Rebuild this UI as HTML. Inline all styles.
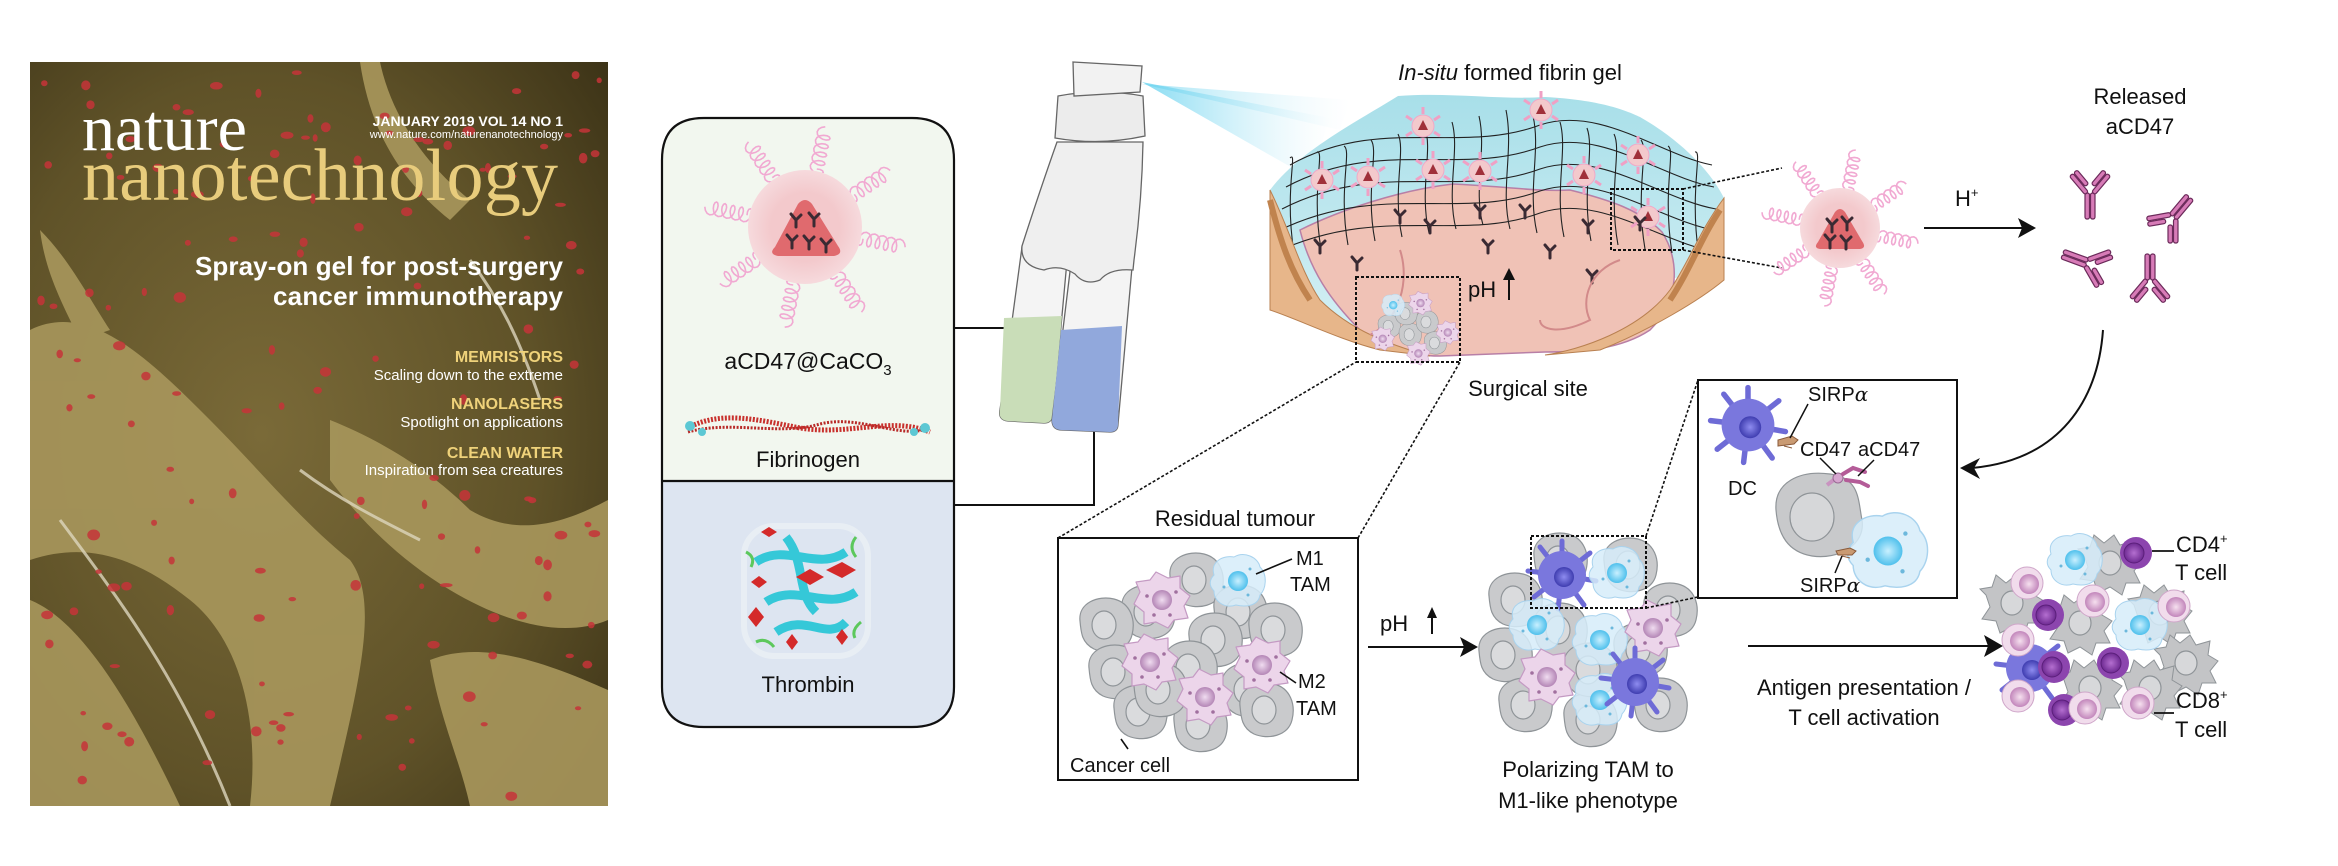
<!DOCTYPE html>
<html><head><meta charset="utf-8"><style>
html,body{margin:0;padding:0;background:#fff;overflow:hidden;}
svg{display:block;}
text{font-family:"Liberation Sans",Arial,sans-serif;fill:#111;}
</style></head><body>
<svg id="s" width="2338" height="866" viewBox="0 0 2338 866" xmlns="http://www.w3.org/2000/svg">
<defs>
 <radialGradient id="cov" cx="0.4" cy="0.5" r="0.8"><stop offset="0" stop-color="#7a6a38"/><stop offset="0.6" stop-color="#5f5228"/><stop offset="1" stop-color="#3a3116"/></radialGradient>
 <radialGradient id="pp" cx="0.5" cy="0.5" r="0.5"><stop offset="0.6" stop-color="#f3c9cc"/><stop offset="1" stop-color="#f6dadd"/></radialGradient>
 <linearGradient id="spray" x1="0" y1="0" x2="1" y2="0"><stop offset="0" stop-color="#5fd0ee" stop-opacity="0.95"/><stop offset="1" stop-color="#bfeaf7" stop-opacity="0"/></linearGradient>
 <linearGradient id="gel" x1="0" y1="0" x2="0" y2="1"><stop offset="0" stop-color="#a8dfe9"/><stop offset="1" stop-color="#d8f1f5"/></linearGradient>
 <radialGradient id="m1n"><stop offset="0" stop-color="#c9f0ff"/><stop offset="1" stop-color="#4fc0ec"/></radialGradient>
 <radialGradient id="m2n"><stop offset="0" stop-color="#f0dcf0"/><stop offset="1" stop-color="#b486b6"/></radialGradient>
 <radialGradient id="dcn"><stop offset="0" stop-color="#8e8cf0"/><stop offset="1" stop-color="#3f3db0"/></radialGradient>
 <radialGradient id="cd4"><stop offset="0" stop-color="#b46fd0"/><stop offset="1" stop-color="#6e2a92"/></radialGradient>
 <radialGradient id="cd8"><stop offset="0" stop-color="#f6e0ef"/><stop offset="1" stop-color="#c286bb"/></radialGradient>
 <g id="ab"><path d="M0,1 L0,8 M0,1 L-5,-5 M0,1 L5,-4" stroke="#3a2a33" stroke-width="3" fill="none" stroke-linecap="round"/></g>
 <g id="bigab">
  <g stroke="#6b2a5a" stroke-width="1.2" fill="#d77bb7">
  <rect x="-5" y="0" width="4.5" height="26" rx="2"/><rect x="0.5" y="0" width="4.5" height="26" rx="2"/>
  <g transform="rotate(-40)"><rect x="-5" y="-26" width="4.5" height="24" rx="2"/><rect x="0.5" y="-26" width="4.5" height="18" rx="2"/></g>
  <g transform="rotate(40)"><rect x="-5" y="-26" width="4.5" height="18" rx="2"/><rect x="0.5" y="-26" width="4.5" height="24" rx="2"/></g>
  </g></g>
 <g id="gc"><path d="M-26,-4 C-28,-22 -8,-30 8,-26 C24,-22 30,-6 26,10 C22,26 2,30 -12,24 C-24,18 -25,8 -26,-4Z" fill="#c9cacc" stroke="#8f9498" stroke-width="1.2"/><ellipse cx="-2" cy="0" rx="12" ry="14" fill="#dadbdd" stroke="#8f9498" stroke-width="1.2"/></g>
 <g id="gs"><path d="M-26,-10 L-32,-16 L-20,-18 L-16,-30 L-6,-22 L4,-30 L10,-20 L24,-24 L22,-10 L32,-4 L24,6 L30,18 L16,18 L12,30 L0,22 L-12,28 L-16,16 L-30,14 L-22,2Z" fill="#c3c4c6" stroke="#8f9498" stroke-width="1"/><ellipse cx="0" cy="-2" rx="11" ry="12" fill="#d7d8da" stroke="#8f9498" stroke-width="1.2"/></g>
 <g id="m1"><path d="M-24,-6 C-28,-20 -14,-26 -4,-24 C6,-30 20,-24 22,-14 C30,-6 28,8 22,14 C20,26 6,26 -2,24 C-14,28 -24,20 -24,10 C-30,4 -28,-2 -24,-6Z" fill="#d6ecf9" fill-opacity="0.85" stroke="#a9d3ee" stroke-width="1"/><circle r="10" fill="url(#m1n)"/><circle cx="-14" cy="6" r="1.5" fill="#6cb8dc"/><circle cx="12" cy="-12" r="1.5" fill="#6cb8dc"/><circle cx="10" cy="14" r="1.5" fill="#6cb8dc"/></g>
 <g id="m2"><path d="M-22,-8 L-26,-18 L-12,-20 L-6,-28 L6,-22 L18,-24 L18,-12 L28,-4 L22,6 L26,18 L12,20 L6,28 L-6,22 L-18,24 L-18,12 L-28,4Z" fill="#ecd5ea" stroke="#c49ac3" stroke-width="1.2" stroke-linejoin="round"/><circle r="10" fill="url(#m2n)"/><circle cx="-15" cy="-4" r="1.8" fill="#a1709f"/><circle cx="14" cy="-8" r="1.8" fill="#a1709f"/><circle cx="8" cy="15" r="1.8" fill="#a1709f"/><circle cx="-8" cy="15" r="1.8" fill="#a1709f"/></g>
 <g id="dc"><g stroke="#6e6bd6" stroke-width="5" stroke-linecap="round"><line x1="0" y1="0" x2="0" y2="-34"/><line x1="0" y1="0" x2="28" y2="-22"/><line x1="0" y1="0" x2="34" y2="6"/><line x1="0" y1="0" x2="22" y2="30"/><line x1="0" y1="0" x2="-4" y2="34"/><line x1="0" y1="0" x2="-28" y2="22"/><line x1="0" y1="0" x2="-34" y2="-4"/><line x1="0" y1="0" x2="-22" y2="-28"/></g><circle r="24" fill="#7a77dd"/><circle cx="2" cy="2" r="10" fill="url(#dcn)"/></g>
 <g id="t4"><circle r="16" fill="#8c45ae"/><circle cx="-2" cy="0" r="10" fill="url(#cd4)" stroke="#5b1f7a" stroke-width="1"/></g>
 <g id="t8"><circle r="16" fill="#f1dcec" stroke="#cfa6c9" stroke-width="1"/><circle cx="2" cy="1" r="10" fill="url(#cd8)"/></g>
 <g id="gp"><circle r="11" fill="#f3c9cc" stroke="#f0a9c8" stroke-width="1"/><path d="M-5,4 L0,-6 L5,4Z" fill="#a0303a"/><g stroke="#f0a0c4" stroke-width="3"><line x1="0" y1="-12" x2="0" y2="-19"/><line x1="11" y1="-6" x2="17" y2="-10"/><line x1="11" y1="6" x2="17" y2="10"/><line x1="0" y1="12" x2="0" y2="19"/><line x1="-11" y1="6" x2="-17" y2="10"/><line x1="-11" y1="-6" x2="-17" y2="-10"/></g></g>
</defs>

<!-- cover -->
<rect x="30" y="62" width="578" height="744" fill="url(#cov)"/>
<g fill="#a8975c" opacity="0.9">
 <path d="M30,330 C90,300 150,360 210,420 C260,470 300,520 350,560 C380,600 360,680 330,806 L250,806 C260,720 240,640 190,600 C140,560 90,540 30,560Z"/>
 <path d="M30,600 C80,620 130,700 180,806 L30,806Z"/>
 <path d="M330,420 C380,440 430,470 470,510 C520,540 570,520 608,500 L608,620 C560,640 500,620 450,590 C400,560 360,520 330,480Z"/>
 <path d="M430,660 C480,640 540,660 608,690 L608,806 L470,806 C460,760 440,720 430,660Z"/>
 <path d="M40,230 C70,260 90,300 110,330 L80,340 C60,300 45,270 40,230Z"/>
 <path d="M380,62 C390,110 420,160 470,200 L450,220 C400,180 370,130 360,62Z"/>
</g>
<g stroke="#ddd6bd" stroke-width="3" fill="none" opacity="0.8">
 <path d="M60,520 C120,600 180,680 230,806"/><path d="M300,470 C340,500 380,520 420,540"/><path d="M470,260 C500,300 520,340 540,400"/>
</g>
<g fill="#c63438" id="dots"></g>
<text x="82" y="150" font-size="66" style="fill:#fff;font-family:'Liberation Serif',serif">nature</text>
<text x="82" y="200" font-size="74" style="fill:#e8cc7c;font-family:'Liberation Serif',serif" textLength="476">nanotechnology</text>
<text x="563" y="126" font-size="14" font-weight="bold" text-anchor="end" style="fill:#fff">JANUARY 2019  VOL 14  NO 1</text>
<text x="563" y="138" font-size="11" text-anchor="end" style="fill:#fff">www.nature.com/naturenanotechnology</text>
<text x="563" y="275" font-size="26" font-weight="bold" text-anchor="end" style="fill:#fff" textLength="368">Spray-on gel for post-surgery</text>
<text x="563" y="305" font-size="26" font-weight="bold" text-anchor="end" style="fill:#fff" textLength="290">cancer immunotherapy</text>
<text x="563" y="362" font-size="16" font-weight="bold" text-anchor="end" style="fill:#efd27a">MEMRISTORS</text>
<text x="563" y="380" font-size="15" text-anchor="end" style="fill:#fff">Scaling down to the extreme</text>
<text x="563" y="409" font-size="16" font-weight="bold" text-anchor="end" style="fill:#efd27a">NANOLASERS</text>
<text x="563" y="427" font-size="15" text-anchor="end" style="fill:#fff">Spotlight on applications</text>
<text x="563" y="458" font-size="16" font-weight="bold" text-anchor="end" style="fill:#efd27a">CLEAN WATER</text>
<text x="563" y="475" font-size="15" text-anchor="end" style="fill:#fff">Inspiration from sea creatures</text>

<!-- left box -->
<path d="M662,481 L662,160 Q662,118 704,118 L912,118 Q954,118 954,160 L954,481Z" fill="#f2f7ef"/>
<path d="M662,481 L954,481 L954,687 Q954,727 912,727 L704,727 Q662,727 662,687Z" fill="#dde5f1"/>
<path d="M704,118 L912,118 Q954,118 954,160 L954,687 Q954,727 912,727 L704,727 Q662,727 662,687 L662,160 Q662,118 704,118Z" fill="none" stroke="#111" stroke-width="2.2"/>
<line x1="662" y1="481" x2="954" y2="481" stroke="#111" stroke-width="2.2"/>
<g id="spir1"></g>
<circle cx="805" cy="227" r="57" fill="url(#pp)"/>
<path d="M775,247 Q768,254 778,256 L834,256 Q844,254 838,246 L812,204 Q805,196 798,204Z" fill="#e06a6e"/>
<use href="#ab" x="796" y="219"/><use href="#ab" x="814" y="218"/><use href="#ab" x="792" y="240"/><use href="#ab" x="809" y="241"/><use href="#ab" x="826" y="244"/>
<text x="808" y="369" font-size="23" text-anchor="middle">aCD47@CaCO<tspan font-size="15" dy="6">3</tspan></text>
<path d="M688,428 C720,410 760,420 800,428 C850,436 890,416 930,432" stroke="#c8302c" stroke-width="5" fill="none" stroke-dasharray="2 1.5"/>
<path d="M688,432 C730,420 780,436 820,424 C860,414 900,440 930,428" stroke="#b82a28" stroke-width="3" fill="none" stroke-dasharray="2 1.5"/>
<g fill="#5cc8d4"><circle cx="690" cy="426" r="5"/><circle cx="702" cy="432" r="4"/><circle cx="925" cy="428" r="5"/><circle cx="914" cy="432" r="4"/></g>
<text x="808" y="467" font-size="22" text-anchor="middle">Fibrinogen</text>
<g transform="translate(806,592)">
 <rect x="-62" y="-66" width="124" height="130" rx="30" fill="none" stroke="#e8eef4" stroke-width="6"/>
 <path d="M-50,-30 C-20,-50 10,-20 40,-40 M-40,10 C-10,-10 20,20 50,0 M-30,40 C0,20 20,50 40,30 M-20,-55 C0,-30 -10,0 10,20" stroke="#35c8d8" stroke-width="9" fill="none"/>
 <path d="M-55,-10 l8,-6 8,6 -8,6z M-10,-15 l14,-8 14,8 -14,8z M20,-22 l16,-8 14,8 -14,8z M-58,25 l8,-10 8,10 -8,10z M30,45 l6,-8 6,8 -6,8z M-20,50 l6,-8 6,8 -6,8z M-45,-60 l8,-5 8,5 -8,5z" fill="#d42a2a"/>
 <path d="M-60,-40 q10,5 5,15 M50,-55 q-8,10 0,20 M-50,50 q10,-5 18,5 M55,30 q-10,8 -6,16" stroke="#5cc85c" stroke-width="3" fill="none"/>
</g>
<text x="808" y="692" font-size="22" text-anchor="middle">Thrombin</text>

<!-- connectors box to tubes -->
<path d="M954,328 L1028,328" stroke="#111" stroke-width="2" fill="none"/>
<path d="M954,505 L1094,505 L1094,413" stroke="#111" stroke-width="2" fill="none"/>

<!-- spray -->
<path d="M1142,82 L1330,118 L1310,178 Z" fill="url(#spray)" opacity="0.8"/>
<path d="M1142,84 L1350,100 L1340,130Z" fill="url(#spray)" opacity="0.6"/>
<!-- bottle -->
<g stroke="#666" stroke-width="1.3">
 <path d="M1022,247 L1000,410 Q998,420 1008,421 L1044,423 Q1052,423 1053,414 L1068,250Z" fill="#f4f4f4"/>
 <path d="M1004,318 L1000,410 Q998,420 1008,421 L1044,423 Q1052,423 1053,414 L1062,316Z" fill="#c9ddb8" stroke="none"/>
 <path d="M1072,255 L1052,420 Q1052,430 1062,430 L1110,432 Q1118,432 1118,424 L1133,256Z" fill="#f4f4f4"/>
 <path d="M1061,330 L1052,420 Q1052,430 1062,430 L1110,432 Q1118,432 1118,424 L1122,326Z" fill="#91a8dc" stroke="none"/>
 <path d="M1057,142 L1143,142 Q1142,200 1134,260 L1133,270 Q1110,268 1100,280 Q1085,286 1075,274 Q1060,264 1044,270 Q1020,266 1022,246 Q1040,190 1057,142Z" fill="#efefef"/>
 <path d="M1058,96 Q1100,88 1143,96 L1145,136 Q1100,146 1055,138Z" fill="#ececec"/>
 <path d="M1073,62 L1142,66 L1140,92 L1074,96Z" fill="#f2f2f2"/>
</g>

<!-- gel surgical site -->
<path d="M1270,190 C1300,150 1360,120 1398,96 C1450,92 1500,100 1545,97 C1600,100 1625,110 1640,117 C1680,140 1710,170 1724,198 L1724,280 C1690,270 1650,280 1620,300 C1590,330 1570,350 1545,352 L1440,356 C1400,355 1330,320 1270,300Z" fill="url(#gel)"/>
<path d="M1300,230 C1340,210 1400,190 1453,184 C1500,186 1540,192 1570,190 C1610,200 1640,210 1662,232 C1680,260 1680,300 1650,330 C1620,350 1580,352 1545,352 L1440,356 C1400,356 1380,345 1360,330 C1330,300 1310,270 1300,230Z" fill="#f0c2b6" stroke="#b87fa6" stroke-width="1.5"/>
<g id="grid" stroke="#222" stroke-width="1.1" fill="none"></g>
<path d="M1270,190 C1290,230 1300,270 1320,300 C1350,330 1390,345 1430,356 L1380,350 C1340,340 1300,320 1270,310Z" fill="#e7b68a" stroke="#b98050" stroke-width="1"/>
<path d="M1270,200 C1280,240 1290,270 1310,300" stroke="#c0834e" stroke-width="6" fill="none"/>
<path d="M1724,198 C1700,230 1690,260 1670,290 C1640,330 1580,350 1545,355 L1600,350 C1650,330 1700,300 1724,280Z" fill="#e7b68a" stroke="#b98050" stroke-width="1"/>
<path d="M1720,210 C1700,240 1690,270 1670,300" stroke="#c0834e" stroke-width="6" fill="none"/>
<g id="gelp"></g>
<g id="gelab"></g>
<path d="M1400,250 C1410,280 1400,320 1370,335 M1620,260 C1590,270 1580,300 1590,320 C1560,335 1540,330 1540,320" stroke="#d28a8a" stroke-width="2" fill="none"/>
<!-- small tumour in gel -->
<g transform="translate(1410,322) scale(0.42)">
 <use href="#gc" x="-50" y="10"/><use href="#gc" x="0" y="30"/><use href="#gc" x="40" y="0"/><use href="#gc" x="-10" y="-20"/><use href="#gc" x="60" y="50"/>
 <use href="#m1" x="-40" y="-40"/><use href="#m2" x="25" y="-45"/><use href="#m2" x="-65" y="40"/><use href="#m2" x="90" y="25"/><use href="#m2" x="20" y="75"/>
</g>
<text x="1468" y="297" font-size="22">pH</text>
<path d="M1509,300 L1509,275" stroke="#111" stroke-width="2"/><path d="M1503,280 L1509,268 L1515,280Z" fill="#111"/>
<rect x="1356" y="277" width="104" height="85" fill="none" stroke="#111" stroke-width="2" stroke-dasharray="3 2"/>
<rect x="1611" y="189" width="72" height="61" fill="none" stroke="#111" stroke-width="2" stroke-dasharray="3 2"/>
<line x1="1683" y1="189" x2="1782" y2="168" stroke="#111" stroke-width="1.6" stroke-dasharray="3 2"/>
<line x1="1683" y1="250" x2="1782" y2="268" stroke="#111" stroke-width="1.6" stroke-dasharray="3 2"/>
<text x="1510" y="80" font-size="22" text-anchor="middle"><tspan font-style="italic">In-situ</tspan> formed fibrin gel</text>
<text x="1528" y="396" font-size="22" text-anchor="middle">Surgical site</text>

<!-- zoomed particle -->
<g id="spir2"></g>
<circle cx="1840" cy="228" r="40" fill="url(#pp)"/>
<path d="M1818,242 Q1813,248 1820,249 L1860,249 Q1867,248 1862,241 L1845,212 Q1840,206 1835,212Z" fill="#e06a6e"/>
<use href="#ab" x="1832" y="224"/><use href="#ab" x="1847" y="222"/><use href="#ab" x="1830" y="240"/><use href="#ab" x="1846" y="241"/>
<line x1="1924" y1="228" x2="2024" y2="228" stroke="#111" stroke-width="2"/><path d="M2036,228 L2018,218 L2022,228 L2018,238Z" fill="#111"/>
<text x="1955" y="206" font-size="22">H<tspan font-size="13" dy="-9">+</tspan></text>
<text x="2140" y="104" font-size="22" text-anchor="middle">Released</text>
<text x="2140" y="134" font-size="22" text-anchor="middle">aCD47</text>
<use href="#bigab" x="2090" y="193"/>
<g transform="translate(2173,217) rotate(-140)"><use href="#bigab"/></g>
<g transform="translate(2087,263) rotate(110)"><use href="#bigab"/></g>
<g transform="translate(2150,280) rotate(180)"><use href="#bigab"/></g>
<!-- curved arrow -->
<path d="M2103,330 C2098,400 2060,460 1972,468" stroke="#111" stroke-width="2" fill="none"/>
<path d="M1960,468 L1980,458 L1974,468 L1980,479Z" fill="#111"/>

<!-- inset box -->
<rect x="1698" y="380" width="259" height="218" fill="#fff" stroke="#111" stroke-width="2"/>
<g transform="translate(1748,425) scale(1.1)"><use href="#dc"/></g>
<path d="M1778,440 l14,-4 6,4 -4,4 -16,2z M1784,446 l8,2" fill="#c99a72" stroke="#8a5a3a" stroke-width="1"/>
<line x1="1790" y1="438" x2="1808" y2="404" stroke="#111" stroke-width="1.5"/>
<text x="1808" y="401" font-size="20">SIRP<tspan font-family="DejaVu Serif,serif" font-style="italic">α</tspan></text>
<text x="1728" y="495" font-size="20">DC</text>
<path d="M1776,510 C1774,482 1800,470 1830,474 C1860,478 1858,500 1862,520 C1866,545 1838,560 1812,556 C1788,552 1778,535 1776,510Z" fill="#c8c9cb" stroke="#8f9498" stroke-width="1.2"/>
<ellipse cx="1812" cy="517" rx="22" ry="24" fill="#d6d7d9" stroke="#8f9498" stroke-width="1.2"/>
<path d="M1827,485 l8,-6" stroke="#c993c0" stroke-width="4"/><circle cx="1838" cy="478" r="5" fill="#d6a6cf" stroke="#9a6a94"/>
<path d="M1843,474 l10,-6 l12,4 M1846,480 l14,2 8,4" stroke="#b45c98" stroke-width="4" fill="none" stroke-linecap="round"/>
<line x1="1836" y1="474" x2="1820" y2="458" stroke="#111" stroke-width="1.5"/>
<line x1="1858" y1="476" x2="1874" y2="460" stroke="#111" stroke-width="1.5"/>
<text x="1800" y="456" font-size="20">CD47</text>
<text x="1858" y="456" font-size="20">aCD47</text>
<g transform="translate(1888,551) scale(1.45)"><use href="#m1"/></g>
<path d="M1836,551 l14,-3 6,3 -4,4 -14,0z M1842,556 l8,2" fill="#c99a72" stroke="#8a5a3a" stroke-width="1"/>
<line x1="1842" y1="556" x2="1835" y2="573" stroke="#111" stroke-width="1.5"/>
<text x="1800" y="592" font-size="20">SIRP<tspan font-family="DejaVu Serif,serif" font-style="italic">α</tspan></text>

<!-- residual tumour -->
<line x1="1058" y1="538" x2="1356" y2="362" stroke="#111" stroke-width="1.6" stroke-dasharray="3 2"/>
<line x1="1358" y1="538" x2="1460" y2="362" stroke="#111" stroke-width="1.6" stroke-dasharray="3 2"/>
<rect x="1058" y="538" width="300" height="242" fill="#fff" stroke="#111" stroke-width="2"/>
<text x="1235" y="526" font-size="22" text-anchor="middle">Residual  tumour</text>
<g>
 <use href="#gc" x="1196" y="580"/><use href="#gc" x="1148" y="612"/><use href="#gc" x="1106" y="625"/><use href="#gc" x="1240" y="612"/><use href="#gc" x="1275" y="630"/>
 <use href="#gc" x="1215" y="640"/><use href="#gc" x="1190" y="668"/><use href="#gc" x="1115" y="672"/><use href="#gc" x="1248" y="690"/><use href="#gc" x="1140" y="712"/><use href="#gc" x="1200" y="725"/><use href="#gc" x="1266" y="710"/><use href="#gc" x="1160" y="690"/>
 <use href="#m2" x="1162" y="600"/><use href="#m2" x="1150" y="662"/><use href="#m2" x="1262" y="665"/><use href="#m2" x="1205" y="697"/><use href="#m1" x="1238" y="581"/>
</g>
<line x1="1256" y1="574" x2="1292" y2="559" stroke="#111" stroke-width="1.6"/>
<text x="1296" y="565" font-size="20">M1</text><text x="1290" y="591" font-size="20">TAM</text>
<line x1="1280" y1="672" x2="1296" y2="683" stroke="#111" stroke-width="1.6"/>
<text x="1298" y="688" font-size="20">M2</text><text x="1296" y="715" font-size="20">TAM</text>
<line x1="1121" y1="739" x2="1128" y2="749" stroke="#111" stroke-width="1.6"/>
<text x="1070" y="772" font-size="20">Cancer cell</text>

<!-- pH arrow -->
<text x="1380" y="631" font-size="22">pH</text>
<path d="M1432,634 L1432,614" stroke="#111" stroke-width="2"/><path d="M1427,618 L1432,607 L1437,618Z" fill="#111"/>
<line x1="1368" y1="647" x2="1466" y2="647" stroke="#111" stroke-width="2"/><path d="M1478,647 L1460,637 L1464,647 L1460,657Z" fill="#111"/>

<!-- middle cluster -->
<g>
 <use href="#gc" x="1515" y="600"/><use href="#gc" x="1560" y="560"/><use href="#gc" x="1630" y="565"/><use href="#gc" x="1670" y="610"/><use href="#gc" x="1505" y="655"/>
 <use href="#gc" x="1560" y="630"/><use href="#gc" x="1640" y="650"/><use href="#gc" x="1525" y="705"/><use href="#gc" x="1590" y="720"/><use href="#gc" x="1660" y="705"/><use href="#gc" x="1590" y="670"/>
 <use href="#dc" x="1562" y="575"/><use href="#m1" x="1617" y="573"/><use href="#m1" x="1537" y="625"/><use href="#m1" x="1600" y="640"/><use href="#m2" x="1653" y="628"/><use href="#m2" x="1547" y="677"/><use href="#m1" x="1600" y="700"/><use href="#dc" x="1635" y="682"/>
</g>
<rect x="1531" y="536" width="115" height="72" fill="none" stroke="#111" stroke-width="2" stroke-dasharray="3 2"/>
<line x1="1646" y1="536" x2="1698" y2="380" stroke="#111" stroke-width="1.6" stroke-dasharray="3 2"/>
<line x1="1646" y1="608" x2="1698" y2="597" stroke="#111" stroke-width="1.6" stroke-dasharray="3 2"/>
<text x="1588" y="777" font-size="22" text-anchor="middle">Polarizing TAM to</text>
<text x="1588" y="808" font-size="22" text-anchor="middle">M1-like phenotype</text>

<!-- antigen arrow -->
<line x1="1748" y1="646" x2="1990" y2="646" stroke="#111" stroke-width="2"/><path d="M2003,646 L1984,635 L1988,646 L1984,657Z" fill="#111"/>
<text x="1864" y="695" font-size="22" text-anchor="middle">Antigen presentation /</text>
<text x="1864" y="725" font-size="22" text-anchor="middle">T cell activation</text>

<!-- right cluster -->
<g>
 <use href="#gs" x="2110" y="565"/><use href="#gs" x="2012" y="605"/><use href="#gs" x="2080" y="625"/><use href="#gs" x="2160" y="615"/><use href="#gs" x="2186" y="665"/><use href="#gs" x="2090" y="690"/><use href="#gs" x="2150" y="690"/>
 <use href="#m1" x="2075" y="560"/><use href="#m1" x="2140" y="625"/><use href="#dc" x="2030" y="668"/>
 <use href="#t4" x="2136" y="553"/><use href="#t4" x="2048" y="615"/><use href="#t4" x="2054" y="667"/><use href="#t4" x="2113" y="663"/><use href="#t4" x="2064" y="710"/>
 <use href="#t8" x="2027" y="583"/><use href="#t8" x="2093" y="601"/><use href="#t8" x="2018" y="640"/><use href="#t8" x="2174" y="606"/><use href="#t8" x="2018" y="696"/><use href="#t8" x="2085" y="708"/><use href="#t8" x="2138" y="703"/>
</g>
<line x1="2152" y1="551" x2="2174" y2="551" stroke="#111" stroke-width="1.8"/>
<text x="2176" y="552" font-size="22">CD4<tspan font-size="13" dy="-9">+</tspan></text>
<text x="2175" y="580" font-size="22">T cell</text>
<line x1="2154" y1="713" x2="2174" y2="713" stroke="#111" stroke-width="1.8"/>
<text x="2176" y="708" font-size="22">CD8<tspan font-size="13" dy="-9">+</tspan></text>
<text x="2175" y="737" font-size="22">T cell</text>
</svg>
<script>
(function(){
var NS="http://www.w3.org/2000/svg";
function el(p,n,a){var e=document.createElementNS(NS,n);for(var k in a)e.setAttribute(k,a[k]);p.appendChild(e);return e;}
var d=document.getElementById('dots');var seed=7;function r(){seed=(seed*9301+49297)%233280;return seed/233280;}
for(var i=0;i<170;i++){var x=40+r()*560,y=70+r()*730;if(x>180&&x<570&&y>230&&y<480&&r()<0.6)continue;el(d,'ellipse',{cx:x,cy:y,rx:2.5+r()*4,ry:2+r()*3.5,opacity:0.85});}
function spir(g,cx,cy,r0,r1,n,w){for(var k=0;k<8;k++){var a=k*Math.PI/4+0.2;var s='';var steps=60;for(var j=0;j<=steps;j++){var t=j/steps;var rr=r0+(r1-r0)*t;var ph=t*n*2*Math.PI;var px=cx+Math.cos(a)*rr+Math.cos(a)*Math.cos(ph)*w*0.6-Math.sin(a)*Math.sin(ph)*w;var py=cy+Math.sin(a)*rr+Math.sin(a)*Math.cos(ph)*w*0.6+Math.cos(a)*Math.sin(ph)*w;s+=(j?'L':'M')+px.toFixed(1)+','+py.toFixed(1);}el(g,'path',{d:s,stroke:'#f1a9d2',"stroke-width":1.6,fill:'none'});}}
spir(document.getElementById('spir1'),805,227,55,98,5,7);
spir(document.getElementById('spir2'),1840,228,38,76,5,6);
var gr=document.getElementById('grid');
for(var i=0;i<16;i++){var x=1290+i*27;el(gr,'path',{d:'M'+x+','+(110+Math.abs(i-8)*6)+' C'+(x+8)+',150 '+(x-6)+',190 '+(x+4)+','+(225+Math.abs(i-7)*4)});}
for(var j=0;j<5;j++){var y=125+j*22;el(gr,'path',{d:'M'+(1290-j*4)+','+(y+40)+' C1380,'+(y-10)+' 1460,'+(y+30)+' 1540,'+(y)+' C1600,'+(y-20)+' 1660,'+(y+30)+' '+(1712+j*2)+','+(y+40)});}
var gp=document.getElementById('gelp');[[1322,180],[1368,177],[1423,126],[1480,171],[1541,110],[1584,175],[1638,155],[1648,217],[1433,170]].forEach(function(p){el(gp,'use',{href:'#gp',x:p[0],y:p[1]});});
var ga=document.getElementById('gelab');[[1400,215],[1430,225],[1480,210],[1525,210],[1588,225],[1320,245],[1357,262],[1488,245],[1550,250],[1592,275],[1640,222]].forEach(function(p){el(ga,'use',{href:'#ab',x:p[0],y:p[1]});});
})();
</script>
</body></html>
